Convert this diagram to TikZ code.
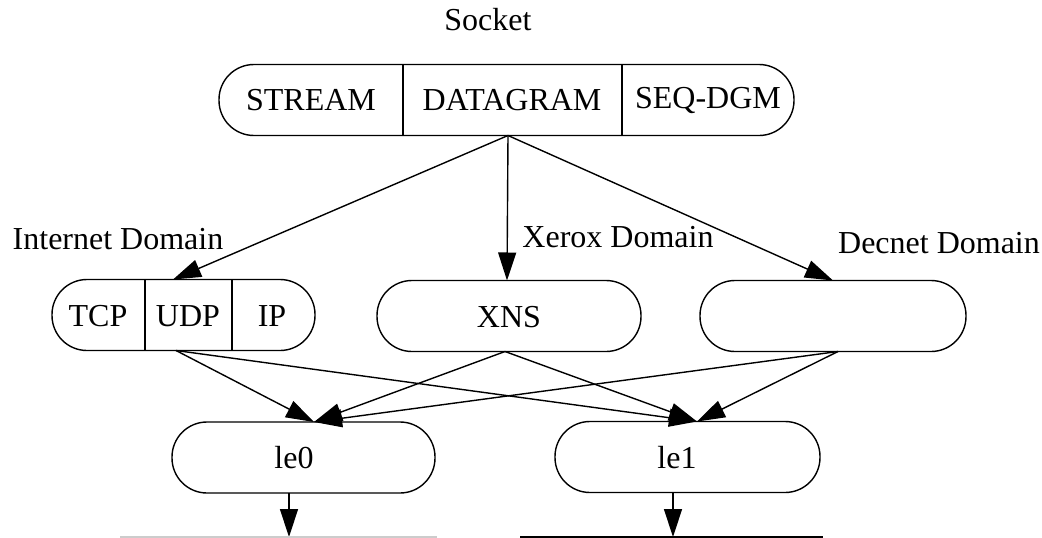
\documentclass[tikz,border=0pt]{standalone}
\usepackage{fontspec}
\setmainfont{Liberation Serif}
\usetikzlibrary{arrows.meta}
\begin{document}
\begin{tikzpicture}[x=1pt,y=-1pt,
  capsule/.style={draw,line width=1.4pt,rounded corners=35pt,minimum height=71pt,inner sep=0pt},
  txt/.style={font=\fontsize{32}{36}\selectfont,inner sep=0pt,anchor=center},
  link/.style={line width=1.4pt,-{Triangle[length=28pt,width=18pt]}},
  divider/.style={line width=1.4pt}]
\useasboundingbox (0,0) rectangle (1042,538);
% top
\node[txt] (socket) at (488,20) {Socket};
\node[capsule,minimum width=575pt] (sock) at (506.5,100) {};
\coordinate (d1t) at (403,64.5); \coordinate (d1b) at (403,135.5);
\coordinate (d2t) at (622,64.5); \coordinate (d2b) at (622,135.5);
\draw[divider] (d1t) -- (d1b);
\draw[divider] (d2t) -- (d2b);
\node[txt] (stream) at (311,100) {STREAM};
\node[txt] (dgram) at (512,100) {DATAGRAM};
\node[txt] (seq) at (708,100) {SEQ-DGM};
% domains
\node[capsule,minimum width=263pt] (inet) at (183.5,315) {};
\coordinate (d3t) at (145,279.5); \coordinate (d3b) at (145,350.5);
\coordinate (d4t) at (232,279.5); \coordinate (d4b) at (232,350.5);
\draw[divider] (d3t) -- (d3b);
\draw[divider] (d4t) -- (d4b);
\node[txt] (tcp) at (98,316) {TCP};
\node[txt] (udp) at (188,316) {UDP};
\node[txt] (ip) at (272,316) {IP};
\node[capsule,minimum width=264pt] (xns) at (509,316) {};
\node[txt] (xnst) at (509,317) {XNS};
\node[capsule,minimum width=266pt] (dec) at (833,316) {};
\node[txt] (inetl) at (118,239) {Internet Domain};
\node[txt] (xerl) at (618,237) {Xerox Domain};
\node[txt] (decl) at (939,243) {Decnet Domain};
% interfaces
\node[capsule,minimum width=263pt] (le0) at (303.5,457.5) {};
\node[txt] (le0t) at (294,458) {le0};
\node[capsule,minimum width=265pt] (le1) at (687.5,457) {};
\node[txt] (le1t) at (677,458) {le1};
% anchor coordinates
\coordinate (sockb) at (508,135.5);
\coordinate (inett) at (173,279.5);
\coordinate (xnst0) at (507,280.5);
\coordinate (dect) at (833,280.5);
\coordinate (inetb) at (176,350.5);
\coordinate (xnsb) at (505,351.5);
\coordinate (decb) at (838,351.5);
\coordinate (le0in) at (314,422);
\coordinate (le1in) at (697,421.5);
\coordinate (le0b) at (289,493);
\coordinate (le1b) at (673,492.5);
\coordinate (net0) at (289,537);
\coordinate (net1) at (673,537);
\coordinate (n0l) at (120,537); \coordinate (n0r) at (437,537);
\coordinate (n1l) at (520,537); \coordinate (n1r) at (823,537);
% connectors
\draw[link] (sockb) -- (inett);
\draw[link] (sockb) -- (xnst0);
\draw[link] (sockb) -- (dect);
\draw[link] (inetb) -- (le0in);
\draw[link] (inetb) -- (le1in);
\draw[link] (xnsb) -- (le0in);
\draw[link] (xnsb) -- (le1in);
\draw[link] (decb) -- (le0in);
\draw[link] (decb) -- (le1in);
\draw[link] (le0b) -- (net0);
\draw[link] (le1b) -- (net1);
\draw[line width=1.2pt,black!20] (n0l) -- (n0r);
\draw[line width=1.4pt] (n1l) -- (n1r);
\end{tikzpicture}
\end{document}
